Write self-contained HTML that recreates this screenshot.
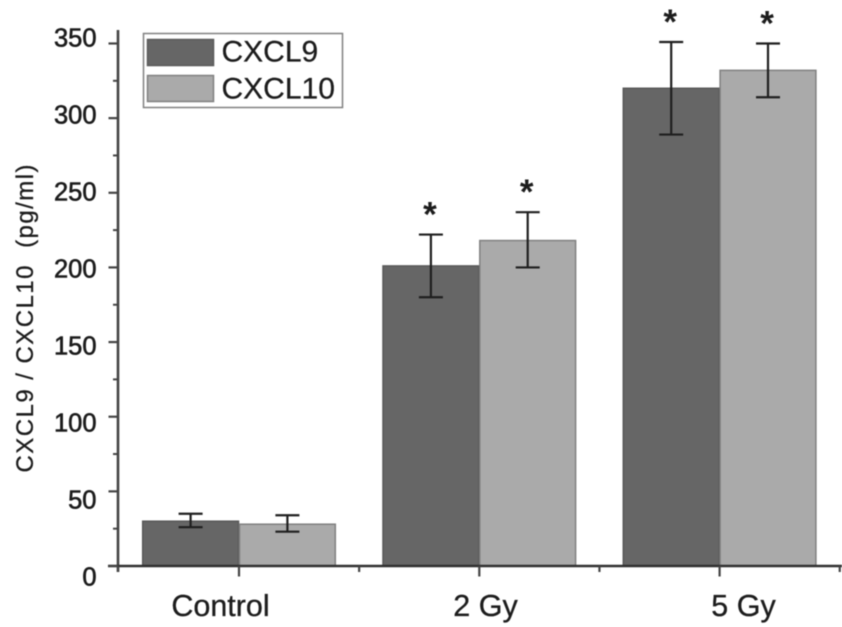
<!DOCTYPE html>
<html lang="en">
<head>
<meta charset="utf-8">
<title>CXCL9 / CXCL10 by radiation dose</title>
<style>
  html, body { margin: 0; padding: 0; background: #fff; }
  #chart { display: block; width: 842px; height: 627px; filter: blur(0.65px); }
  text { font-family: "Liberation Sans", Arial, sans-serif; fill: #1c1c1c; }
</style>
</head>
<body>
<svg id="chart" xmlns="http://www.w3.org/2000/svg" width="842" height="627" viewBox="0 0 842 627">
  <rect x="0" y="0" width="842" height="627" fill="#fff"/>
  <g id="bars"></g>
  <g id="errors"></g>
  <g id="stars"></g>
  <g id="axes"></g>
  <text transform="translate(33,318.5) rotate(-90)" text-anchor="middle" font-size="24" stroke="#1c1c1c" stroke-width="0.3" textLength="308" lengthAdjust="spacing" xml:space="preserve">CXCL9 / CXCL10  (pg/ml)</text>
  <g>
    <rect x="143.5" y="33.5" width="199" height="74" fill="#fff" stroke="#808080" stroke-width="1.5"/>
    <rect x="147.5" y="39.5" width="66" height="26" fill="#666666" stroke="#5a5a5a" stroke-width="1.5"/>
    <text x="221.5" y="61.5" font-size="30" stroke="#1c1c1c" stroke-width="0.25">CXCL9</text>
    <rect x="147.5" y="75.5" width="66" height="26" fill="#aaaaaa" stroke="#808080" stroke-width="1.5"/>
    <text x="221.5" y="98.5" font-size="30" stroke="#1c1c1c" stroke-width="0.25">CXCL10</text>
  </g>
</svg>
<script>
const categories = ["Control", "2 Gy", "5 Gy"];
const seriesNames = ["CXCL9", "CXCL10"];
const cxcl9Values = [30, 201, 320];
const cxcl10Values = [28, 218, 332];
const cxcl9Upper = [35, 222, 351];
const cxcl10Upper = [34, 237, 350];
const cxcl9Lower = [26, 180, 289];
const cxcl10Lower = [23, 200, 314];
const cxcl9Significant = [false, true, true];
const cxcl10Significant = [false, true, true];
const yMajorTicks = [0, 50, 100, 150, 200, 250, 300, 350];
const yMinorTicks = [25, 75, 125, 175, 225, 275, 325];

const NS = "http://www.w3.org/2000/svg";
function yScale(v) { return 566 - v * 1.4929; }
function yLabelCenter(v) { return 577 - v * 1.54; }
function groupCenter(i) { return 239 + i * 240.3; }
function categoryLabelCenter(i) { return i === 0 ? 220.5 : (i === 1 ? 485.5 : 743.5); }
const barWidth = 96.8;
const palette = [
  { fill: "#666666", stroke: "#585858" },
  { fill: "#aaaaaa", stroke: "#808080" }
];
const seriesValues = [cxcl9Values, cxcl10Values];
const seriesUpper = [cxcl9Upper, cxcl10Upper];
const seriesLower = [cxcl9Lower, cxcl10Lower];
const seriesSignificant = [cxcl9Significant, cxcl10Significant];

function make(parent, tag, attrs, content) {
  const el = document.createElementNS(NS, tag);
  for (const k in attrs) el.setAttribute(k, attrs[k]);
  if (content !== undefined) el.textContent = content;
  parent.appendChild(el);
  return el;
}
const barsG = document.getElementById("bars");
const errorsG = document.getElementById("errors");
const starsG = document.getElementById("stars");
const axesG = document.getElementById("axes");

seriesValues.forEach(function (values, s) {
  values.forEach(function (v, i) {
    const left = groupCenter(i) + (s === 0 ? -barWidth : 0);
    const cx = left + barWidth / 2;
    const bar = make(barsG, "rect", {
      x: left + 0.5, y: yScale(v), width: barWidth - 1, height: yScale(0) - yScale(v),
      fill: palette[s].fill, stroke: palette[s].stroke, "stroke-width": 1.5
    });
    
    

    const up = yScale(seriesUpper[s][i]);
    const lo = yScale(seriesLower[s][i]);
    const errV = make(errorsG, "line", { x1: cx, x2: cx, y1: up, y2: lo, stroke: "#1f1f1f", "stroke-width": 2.2 });
    
    
    const capUp = make(errorsG, "line", { x1: cx - 12, x2: cx + 12, y1: up, y2: up, stroke: "#1f1f1f", "stroke-width": 2.2 });
    
    
    const capLo = make(errorsG, "line", { x1: cx - 12, x2: cx + 12, y1: lo, y2: lo, stroke: "#1f1f1f", "stroke-width": 2.2 });
    
    

    if (seriesSignificant[s][i]) {
      const star = make(starsG, "text", {
        x: cx - 1, y: up - 8, "text-anchor": "middle", "font-size": 35, "font-weight": "bold"
      }, "*");
      
      
    }
  });
});

const yAxis = make(axesG, "line", { x1: 118, x2: 118, y1: 30, y2: 572, stroke: "#444444", "stroke-width": 2.6 });


const xAxis = make(axesG, "line", { x1: 108, x2: 842, y1: yScale(0), y2: yScale(0), stroke: "#303030", "stroke-width": 2.4 });



yMajorTicks.forEach(function (v) {
  const t = make(axesG, "line", { x1: 108.5, x2: 118, y1: yScale(v), y2: yScale(v), stroke: "#444444", "stroke-width": 2.2 });
  
  
  const label = make(axesG, "text", {
    x: 96.5, y: yLabelCenter(v) + 8.5, "text-anchor": "end", "font-size": 25.5,
    stroke: "#1c1c1c", "stroke-width": 0.6
  }, String(v));
  
  
});
yMinorTicks.forEach(function (v) {
  const t = make(axesG, "line", { x1: 113, x2: 118, y1: yScale(v), y2: yScale(v), stroke: "#444444", "stroke-width": 2 });
  
  
});
categories.forEach(function (c, i) {
  const cx = groupCenter(i);
  const t = make(axesG, "line", { x1: cx, x2: cx, y1: yScale(0), y2: 576.5, stroke: "#444444", "stroke-width": 2.2 });
  
  
  const minor = make(axesG, "line", { x1: cx + 120.15, x2: cx + 120.15, y1: yScale(0), y2: 572, stroke: "#444444", "stroke-width": 2.2 });
  
  
  const label = make(axesG, "text", {
    x: categoryLabelCenter(i), y: 616, "text-anchor": "middle", "font-size": 30.5,
    stroke: "#1c1c1c", "stroke-width": 0.3
  }, c);
  
  
});
const originMinor = make(axesG, "line", { x1: 118, x2: 118, y1: yScale(0), y2: 572, stroke: "#444444", "stroke-width": 2.2 });


</script>
</body>
</html>
